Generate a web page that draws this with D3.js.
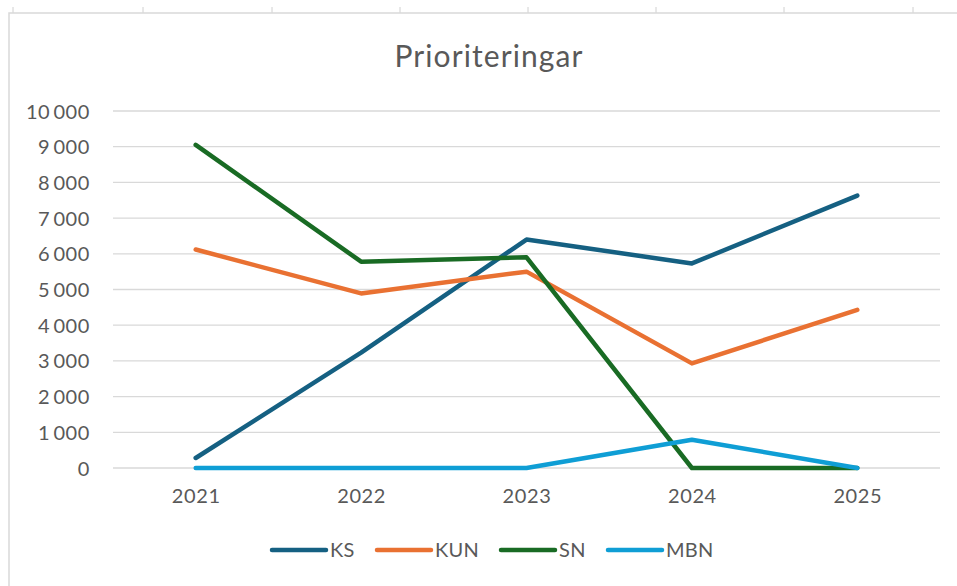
<!DOCTYPE html>
<html>
<head>
<meta charset="utf-8">
<script src="https://cdn.jsdelivr.net/npm/d3@7"></script>
<style>
  body { margin: 0; background: #fff; }
  text { font-family: Lato, "Open Sans", sans-serif; fill: #595959; }
</style>
</head>
<body>
<script>
// Data
var years = ["2021", "2022", "2023", "2024", "2025"];
var seriesNames = ["KS", "KUN", "SN", "MBN"];
var ks  = [280, 3230, 6400, 5730, 7630];
var kun = [6120, 4890, 5500, 2930, 4430];
var sn  = [9050, 5780, 5900, 0, 0];
var mbn = [0, 0, 0, 790, 0];
var yTicks = [0, 1000, 2000, 3000, 4000, 5000, 6000, 7000, 8000, 9000, 10000];
var colors = ["#156082", "#E97132", "#196B24", "#0F9ED5"];

var allSeries = [ks, kun, sn, mbn];

var width = 957, height = 586;
var plot = {left: 113, right: 940, top: 111, bottom: 468};

var svg = d3.select("body").append("svg")
    .attr("width", width)
    .attr("height", height);

// Sheet gridlines above the chart
var sheetCols = [13, 143, 272, 400, 528, 656, 784, 913];
svg.selectAll(".colTick").data(sheetCols).enter().append("line")
    .attr("x1", function(d) { return d; }).attr("x2", function(d) { return d; })
    .attr("y1", 7).attr("y2", 13)
    .attr("stroke", "#d0d0d0").attr("stroke-width", 1);

// Chart border
svg.append("rect")
    .attr("x", 9).attr("y", 13)
    .attr("width", width + 20).attr("height", height + 20)
    .attr("fill", "#fff")
    .attr("stroke", "#d9d9d9").attr("stroke-width", 1.5);

// Scales
var xScale = d3.scalePoint().domain(years).range([plot.left, plot.right]).padding(0.5);
var yScale = d3.scaleLinear().domain([0, 10000]).range([plot.bottom, plot.top]);

var fmt = function(d) { return d3.format(",")(d).replace(",", "\u2009"); };

// Gridlines
svg.append("g").selectAll("line").data(yTicks).enter().append("line")
    .attr("x1", plot.left).attr("x2", plot.right)
    .attr("y1", function(d) { return yScale(d); })
    .attr("y2", function(d) { return yScale(d); })
    .attr("stroke", "#d9d9d9").attr("stroke-width", 1.3);

// Y axis labels
var yAxis = svg.append("g")
    .attr("transform", "translate(" + (plot.left - 23) + ",0)")
    .call(d3.axisLeft(yScale).tickValues(yTicks).tickFormat(fmt).tickSize(0).tickPadding(0));
yAxis.select(".domain").remove();
yAxis.selectAll("text")
    .attr("font-size", 20).attr("font-family", "Lato").attr("fill", "#595959")
    .attr("letter-spacing", 0.6).attr("dy", "0.35em");

// X axis labels
var xAxis = svg.append("g")
    .attr("transform", "translate(0," + plot.bottom + ")")
    .call(d3.axisBottom(xScale).tickSize(0).tickPadding(21));
xAxis.select(".domain").remove();
xAxis.selectAll("text")
    .attr("font-size", 20).attr("font-family", "Lato").attr("fill", "#595959")
    .attr("letter-spacing", 0.6);

// Lines
var line = d3.line()
    .x(function(d, i) { return xScale(years[i]); })
    .y(function(d) { return yScale(d); });

svg.selectAll(".series").data(allSeries).enter().append("path")
    .attr("class", "series")
    .attr("d", line)
    .attr("fill", "none")
    .attr("stroke", function(d, i) { return colors[i]; })
    .attr("stroke-width", 4.5)
    .attr("stroke-linejoin", "round")
    .attr("stroke-linecap", "round");

// Title
svg.append("text")
    .attr("x", 489).attr("y", 67)
    .attr("text-anchor", "middle")
    .attr("font-size", 30)
    .attr("letter-spacing", 1.1)
    .text("Prioriteringar");

// Legend
var legendX = [272, 377, 501, 608];
var legend = svg.selectAll(".legend").data(seriesNames).enter().append("g")
    .attr("transform", function(d, i) { return "translate(" + legendX[i] + ",550)"; });
legend.append("line")
    .attr("x1", 0).attr("x2", 54)
    .attr("stroke", function(d, i) { return colors[i]; })
    .attr("stroke-width", 4.5).attr("stroke-linecap", "round");
legend.append("text")
    .attr("x", 58).attr("dy", "0.35em")
    .attr("font-size", 20)
    .attr("letter-spacing", 0.3)
    .text(function(d) { return d; });
</script>
</body>
</html>
